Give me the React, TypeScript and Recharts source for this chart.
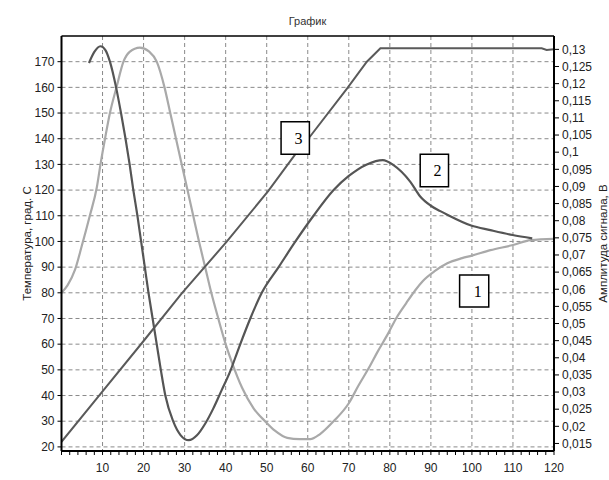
import { LineChart, Line, XAxis, YAxis, CartesianGrid, ReferenceArea, ReferenceLine, Label } from "recharts"

const FONT = '"Liberation Sans", Arial, sans-serif'
const SERIF = '"Liberation Serif", "Times New Roman", serif'

// curve 1 (light) and curve 2 (dark): temperature, left axis. [x, value]
const curve1: [number, number][] = [
  [0, 80], [1.5, 83], [3.3, 89], [4.9, 98], [6.9, 110], [8.6, 121], [9.6, 131], [10.6, 140],
  [11.8, 150], [13.4, 160], [15.1, 170], [16.6, 173.8], [19.1, 175.5], [21.3, 174], [23.2, 170],
  [25.1, 160], [26.5, 150], [27.9, 140], [29.3, 130], [30.7, 120], [32.1, 110], [33.5, 100],
  [35, 90], [36.5, 80], [38.2, 70], [40, 60], [41.5, 53], [44, 43], [46.8, 35], [49.6, 30],
  [52, 26.3], [55, 23.5], [58, 23], [60.6, 23], [63, 25], [66.3, 30], [70, 37], [72.4, 44],
  [74.8, 50.5], [77, 57], [79.7, 64.5], [81.7, 70.5], [84, 76], [86.2, 81], [88, 84.5], [91, 88.5],
  [94, 91.5], [97.6, 93.5], [100, 94.5], [104.5, 96.6], [110, 98.6], [114.3, 100.5], [120, 101],
]

const curve2: [number, number][] = [
  [6.7, 169.5], [8, 173.8], [9.5, 176], [10.7, 174.5], [11.8, 170], [13.3, 160], [14.5, 150],
  [15.6, 140], [16.6, 130], [17.5, 120], [18.5, 110], [19.4, 100], [20.3, 90], [21.2, 80],
  [22.2, 70], [23.2, 60], [24.2, 50], [25.3, 40], [27.2, 30], [29, 24.6], [31, 22.6], [33, 24.5],
  [35, 29], [37, 35], [39, 42], [41, 49], [43.2, 58.5], [46, 70], [48.8, 80], [52.9, 90], [57, 100],
  [61.4, 110], [66.3, 120], [70, 125.5], [74.4, 130], [78.3, 131.7], [80.9, 129.7], [85, 123.2],
  [87.4, 117.5], [89.9, 114], [92.3, 111.8], [94, 110.4], [99.8, 106.2], [104.5, 104.4],
  [109.9, 102.5], [114.7, 101.2],
]

// curve 3: signal amplitude, right axis (V)
const curve3: [number, number][] = [
  [0, 0.0155], [9.6, 0.0296], [20, 0.0449], [29.3, 0.0588], [40.2, 0.0738], [50.4, 0.0887],
  [56.9, 0.0993], [60, 0.1037], [69.6, 0.1186], [74.4, 0.1264], [77.7, 0.1303], [117, 0.1303],
  [118.2, 0.1298], [120, 0.13],
]

const tempTicks = [20, 30, 40, 50, 60, 70, 80, 90, 100, 110, 120, 130, 140, 150, 160, 170]
const voltTicks = [
  0.015, 0.02, 0.025, 0.03, 0.035, 0.04, 0.045, 0.05, 0.055, 0.06, 0.065, 0.07, 0.075, 0.08,
  0.085, 0.09, 0.095, 0.1, 0.105, 0.11, 0.115, 0.12, 0.125, 0.13,
]
const xTicks = [
  0, 2, 4, 6, 8, 10, 12, 14, 16, 18, 20, 22, 24, 26, 28, 30, 32, 34, 36, 38, 40, 42, 44, 46, 48,
  50, 52, 54, 56, 58, 60, 62, 64, 66, 68, 70, 72, 74, 76, 78, 80, 82, 84, 86, 88, 90, 92, 94, 96,
  98, 100, 102, 104, 106, 108, 110, 112, 114, 116, 118, 120,
]
const xGrid = [10, 20, 30, 40, 50, 60, 70, 80, 90, 100, 110, 120]
const xDomain = [0, 120]
const tempDomain = [18.4, 180]
const voltDomain = [0.0128, 0.1339]

// numbered boxes, in data units (x, temperature)
const notes = [
  { text: "3", x1: 53.5, x2: 60.4, t1: 134, t2: 146.6 },
  { text: "2", x1: 87.4, x2: 94.3, t1: 121.3, t2: 134 },
  { text: "1", x1: 97, x2: 104.1, t1: 74.5, t2: 86.9 },
]

const toRows = (pairs: [number, number][]) => pairs.map(([x, v]) => ({ x, v }))

function XTick({ x, y, payload }: any) {
  const v = payload.value
  const major = v % 10 === 0
  return (
    <g>
      <line x1={x} x2={x} y1={y} y2={y + 4} stroke="#000" />
      {major && v > 0 && (
        <text x={x} y={y + 21} textAnchor="middle" fontSize={12} fontFamily={FONT} fill="#222">
          {v}
        </text>
      )}
    </g>
  )
}

const axisTitle = (text: string, dx: number) => (p: any) => {
  const vb = p.viewBox
  return (
    <text
      transform={`translate(${vb.x + dx},${vb.y + vb.height / 2}) rotate(-90)`}
      textAnchor="middle"
      dominantBaseline="central"
      fontSize={11.5}
      fontFamily={FONT}
      fill="#222"
    >
      {text}
    </text>
  )
}

export default function App() {
  return (
    <div style={{ position: "absolute", left: 0, top: 0, width: 609, height: 480, background: "#fff" }}>
      <div
        style={{
          position: "absolute",
          left: 61,
          width: 493,
          top: 15,
          textAlign: "center",
          fontFamily: FONT,
          fontSize: 11,
          lineHeight: "12px",
          color: "#333",
        }}
      >
        График
      </div>
      <LineChart width={609} height={480} margin={{ top: 36, right: 0, bottom: 0, left: 0 }}>
        <CartesianGrid
          yAxisId="temp"
          stroke="#8a8a8a"
          strokeDasharray="4 3"
          verticalValues={xGrid}
          horizontalValues={tempTicks}
        />
        <XAxis
          dataKey="x"
          type="number"
          domain={xDomain}
          ticks={xTicks}
          interval={0}
          height={29}
          tick={<XTick />}
          tickLine={false}
          tickSize={0}
          tickMargin={0}
          axisLine={{ stroke: "#000", strokeWidth: 2 }}
          allowDataOverflow
        />
        <YAxis
          yAxisId="temp"
          type="number"
          domain={tempDomain}
          ticks={tempTicks}
          interval={0}
          width={61.5}
          allowDataOverflow
          tickSize={4}
          tickMargin={3}
          tickLine={{ stroke: "#000" }}
          axisLine={{ stroke: "#000", strokeWidth: 2 }}
          tick={{ fontSize: 12, fontFamily: FONT, fill: "#222" }}
        >
          <Label content={axisTitle("Температура, град. С", 27)} />
        </YAxis>
        <YAxis
          yAxisId="volt"
          orientation="right"
          type="number"
          domain={voltDomain}
          ticks={voltTicks}
          interval={0}
          width={55}
          allowDataOverflow
          tickSize={5}
          tickMargin={3}
          tickLine={{ stroke: "#000" }}
          axisLine={{ stroke: "#000", strokeWidth: 2 }}
          tick={{ fontSize: 12, fontFamily: FONT, fill: "#222" }}
          tickFormatter={(v: number) => String(v).replace(".", ",")}
        >
          <Label content={axisTitle("Амплитуда сигнала, В", 49)} />
        </YAxis>
        <ReferenceLine yAxisId="temp" y={tempDomain[1]} stroke="#000" strokeWidth={1.5} />
        <Line
          yAxisId="temp"
          data={toRows(curve1)}
          dataKey="v"
          type="monotone"
          stroke="#a9a9a9"
          strokeWidth={2.2}
          dot={false}
          isAnimationActive={false}
        />
        <Line
          yAxisId="volt"
          data={toRows(curve3)}
          dataKey="v"
          type="linear"
          stroke="#5a5a5a"
          strokeWidth={2}
          dot={false}
          isAnimationActive={false}
        />
        <Line
          yAxisId="temp"
          data={toRows(curve2)}
          dataKey="v"
          type="monotone"
          stroke="#555"
          strokeWidth={2.2}
          dot={false}
          isAnimationActive={false}
        />
        {notes.map((n) => (
          <ReferenceArea
            key={n.text}
            yAxisId="temp"
            x1={n.x1}
            x2={n.x2}
            y1={n.t1}
            y2={n.t2}
            fill="#fff"
            fillOpacity={1}
            stroke="#000"
            strokeWidth={1.5}
            ifOverflow="visible"
            zIndex={600}
            label={{ value: n.text, position: "insideRight", offset: 7, fontSize: 16, fontFamily: SERIF, fill: "#000" }}
          />
        ))}
      </LineChart>
    </div>
  )
}
